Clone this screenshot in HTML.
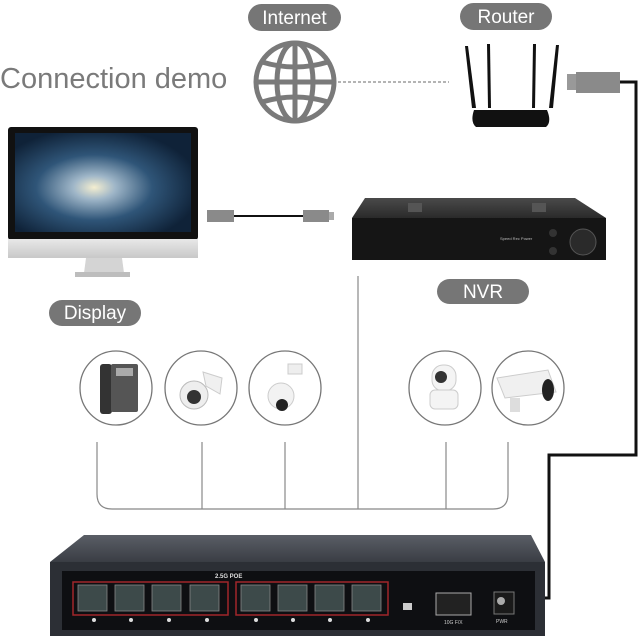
<!DOCTYPE html>
<html><head><meta charset="utf-8"><style>
html,body{margin:0;padding:0;background:#fff;width:640px;height:638px;overflow:hidden}
svg{display:block}
text{font-family:"Liberation Sans","DejaVu Sans",sans-serif}
</style></head><body>
<svg width="640" height="638" viewBox="0 0 640 638" xmlns="http://www.w3.org/2000/svg">
<defs>
<radialGradient id="gal" cx="0.45" cy="0.55" r="0.6">
<stop offset="0" stop-color="#f4eed0"/><stop offset="0.2" stop-color="#9fb6c8"/><stop offset="0.55" stop-color="#2f5578"/><stop offset="1" stop-color="#0f2238"/></radialGradient>
<linearGradient id="chin" x1="0" y1="0" x2="0" y2="1"><stop offset="0" stop-color="#e8e8e8"/><stop offset="1" stop-color="#c8c8c8"/></linearGradient>
<linearGradient id="nvrtop" x1="0" y1="0" x2="0" y2="1"><stop offset="0" stop-color="#4a4a4a"/><stop offset="1" stop-color="#2a2a2a"/></linearGradient>
<linearGradient id="swtop" x1="0" y1="0" x2="0" y2="1"><stop offset="0" stop-color="#5a5e66"/><stop offset="1" stop-color="#3a3d44"/></linearGradient>
</defs>

<!-- pills -->
<rect x="248" y="4" width="93" height="27" rx="13.5" fill="#767676"/>
<text x="294.5" y="24" font-size="19" fill="#fff" text-anchor="middle">Internet</text>
<rect x="460" y="3" width="92" height="27" rx="13.5" fill="#767676"/>
<text x="506" y="23" font-size="19" fill="#fff" text-anchor="middle">Router</text>
<rect x="437" y="279" width="92" height="25" rx="12.5" fill="#767676"/>
<text x="483" y="298" font-size="19" fill="#fff" text-anchor="middle">NVR</text>
<rect x="49" y="300" width="92" height="26" rx="13" fill="#767676"/>
<text x="95" y="319" font-size="19" fill="#fff" text-anchor="middle">Display</text>

<text x="0" y="88" font-size="29" fill="#7a7a7a">Connection demo</text>

<!-- globe -->
<g fill="none" stroke="#7a7a7a" stroke-width="5">
<ellipse cx="295" cy="82" rx="39" ry="39"/>
<ellipse cx="295" cy="82" rx="18" ry="39"/>
<line x1="295" y1="43" x2="295" y2="121"/>
<line x1="256" y1="82" x2="334" y2="82"/>
<path d="M262 62 Q295 72 328 62"/>
<path d="M262 102 Q295 92 328 102"/>
</g>
<line x1="338" y1="82" x2="449" y2="82" stroke="#888" stroke-width="1.2" stroke-dasharray="3,2"/>

<!-- router -->
<g fill="#111">
<polygon points="465,46 468,46 476,108 472,108"/>
<polygon points="487,44 490,44 491,108 488,108"/>
<polygon points="533,44 536,44 535,108 532,108"/>
<polygon points="556,45 559,45 553,108 549,108"/>
<path d="M474 110 L547 110 Q552 122 546 127 L476 127 Q470 122 474 110Z"/>
</g>
<!-- router plug + cable -->
<rect x="567" y="74" width="10" height="16" fill="#999"/>
<rect x="576" y="72" width="44" height="21" fill="#8a8a8a"/>
<polyline points="620,82 636,82 636,455 549,455 549,598 543,598" fill="none" stroke="#111" stroke-width="3"/>

<!-- monitor -->
<rect x="8" y="127" width="190" height="113" rx="3" fill="#111"/>
<rect x="15" y="133" width="176" height="99" fill="url(#gal)"/>
<rect x="8" y="239" width="190" height="19" fill="url(#chin)"/>
<polygon points="86,258 122,258 124,273 84,273" fill="#d4d4d4"/>
<rect x="75" y="272" width="55" height="5" fill="#bdbdbd"/>
<!-- hdmi -->
<rect x="207" y="210" width="27" height="12" fill="#8a8a8a"/>
<line x1="234" y1="216" x2="303" y2="216" stroke="#111" stroke-width="2"/>
<rect x="303" y="210" width="26" height="12" fill="#8a8a8a"/>
<rect x="329" y="212" width="5" height="8" fill="#aaa"/>

<!-- NVR -->
<polygon points="365,198 575,198 606,218 352,218" fill="url(#nvrtop)"/>
<rect x="408" y="203" width="14" height="9" fill="#555"/>
<rect x="532" y="203" width="14" height="9" fill="#555"/>
<rect x="352" y="218" width="254" height="42" fill="#151515"/>
<circle cx="583" cy="242" r="13" fill="#2a2a2a" stroke="#555"/>
<circle cx="553" cy="233" r="4" fill="#333"/>
<circle cx="553" cy="251" r="4" fill="#333"/>
<text x="500" y="240" font-size="4" fill="#bbb">Speed  Rec  Power</text>

<!-- vertical line -->
<line x1="358" y1="276" x2="358" y2="509" stroke="#888" stroke-width="1.2"/>

<!-- circles -->
<g fill="#fff" stroke="#777" stroke-width="1.3">
<ellipse cx="116" cy="388" rx="36" ry="37"/>
<ellipse cx="201" cy="388" rx="36" ry="37"/>
<ellipse cx="285" cy="388" rx="36" ry="37"/>
<ellipse cx="445" cy="388" rx="36" ry="37"/>
<ellipse cx="528" cy="388" rx="36" ry="37"/>
</g>
<!-- phone -->
<rect x="100" y="364" width="12" height="50" rx="3" fill="#333"/>
<rect x="111" y="364" width="27" height="48" rx="2" fill="#555"/>
<rect x="116" y="368" width="17" height="8" fill="#aaa"/>
<!-- dome cam -->
<circle cx="194" cy="395" r="14" fill="#eee" stroke="#bbb"/>
<circle cx="194" cy="397" r="7" fill="#333"/>
<path d="M203 372 L222 378 L220 394 L206 386Z" fill="#f0f0f0" stroke="#ccc"/>
<!-- ptz -->
<rect x="288" y="364" width="14" height="10" fill="#eee" stroke="#ccc"/>
<circle cx="281" cy="396" r="13" fill="#f2f2f2" stroke="#ccc"/>
<circle cx="282" cy="405" r="6" fill="#222"/>
<!-- small cam -->
<rect x="432" y="365" width="24" height="26" rx="11" fill="#f4f4f4" stroke="#ccc"/>
<circle cx="441" cy="377" r="6" fill="#333"/>
<rect x="430" y="390" width="28" height="19" rx="5" fill="#f4f4f4" stroke="#ccc"/>
<!-- bullet cam -->
<polygon points="497,378 548,370 556,392 505,398" fill="#f0f0f0" stroke="#ccc"/>
<ellipse cx="548" cy="390" rx="6" ry="11" fill="#222"/>
<rect x="510" y="398" width="10" height="14" fill="#ddd"/>

<!-- bracket lines -->
<g fill="none" stroke="#888" stroke-width="1.2">
<path d="M97 442 V494 Q97 509 112 509 H493 Q508 509 508 494 V442"/>
<line x1="202" y1="442" x2="202" y2="509"/>
<line x1="285" y1="442" x2="285" y2="509"/>
<line x1="446" y1="442" x2="446" y2="509"/>
</g>

<!-- switch -->
<polygon points="84,535 531,535 545,562 50,562" fill="url(#swtop)"/>
<rect x="50" y="562" width="495" height="74" fill="#2c2f35"/>
<rect x="62" y="571" width="473" height="59" fill="#0e0f12"/>
<text x="215" y="578" font-size="6" fill="#ddd" font-weight="bold">2.5G POE</text>
<rect x="73" y="582" width="155" height="33" fill="none" stroke="#a0262b" stroke-width="1.5"/>
<rect x="236" y="582" width="152" height="33" fill="none" stroke="#a0262b" stroke-width="1.5"/>
<g fill="#3d4a4a" stroke="#888" stroke-width="0.8">
<rect x="78" y="585" width="29" height="26"/><rect x="115" y="585" width="29" height="26"/>
<rect x="152" y="585" width="29" height="26"/><rect x="190" y="585" width="29" height="26"/>
<rect x="241" y="585" width="29" height="26"/><rect x="278" y="585" width="29" height="26"/>
<rect x="315" y="585" width="29" height="26"/><rect x="352" y="585" width="29" height="26"/>
</g>
<g fill="#ddd">
<circle cx="94" cy="620" r="2"/><circle cx="131" cy="620" r="2"/><circle cx="169" cy="620" r="2"/><circle cx="207" cy="620" r="2"/>
<circle cx="256" cy="620" r="2"/><circle cx="293" cy="620" r="2"/><circle cx="330" cy="620" r="2"/><circle cx="368" cy="620" r="2"/>
</g>
<rect x="403" y="603" width="9" height="7" fill="#ccc"/>
<rect x="436" y="593" width="35" height="22" fill="#222" stroke="#aaa"/>
<text x="444" y="624" font-size="5" fill="#ccc">10G F/X</text>
<rect x="494" y="592" width="20" height="22" fill="#1a1a1a" stroke="#777"/>
<circle cx="501" cy="601" r="4" fill="#aaa"/>
<text x="496" y="623" font-size="5" fill="#ccc">PWR</text>
</svg>
</body></html>
